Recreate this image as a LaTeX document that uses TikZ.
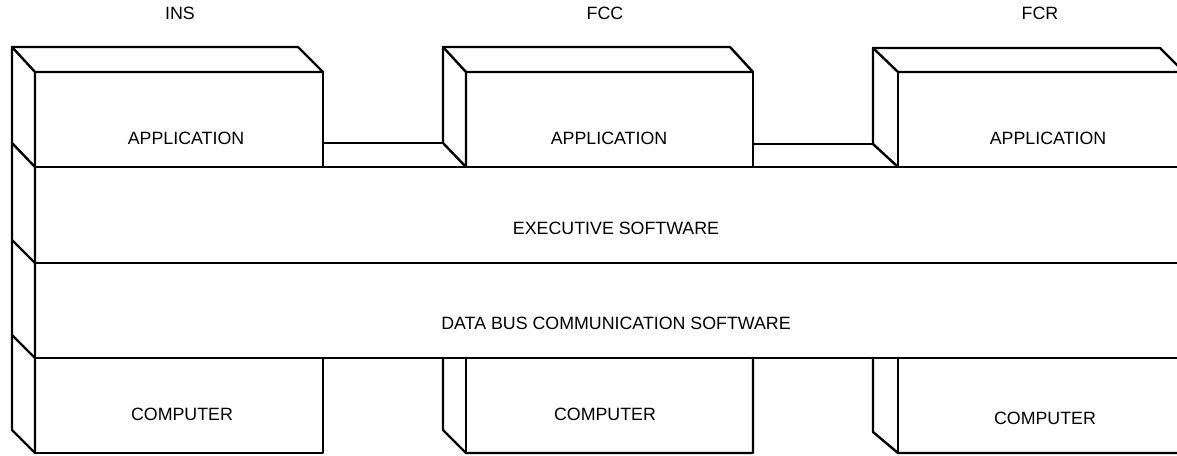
\documentclass[tikz,border=0pt]{standalone}
\usepackage{fontspec}
\setmainfont{Liberation Sans}
\begin{document}
\begin{tikzpicture}[x=1pt,y=-1pt,line width=2.4pt,line join=round,line cap=round,
  lbl/.style={font=\fontsize{17.8}{20}\selectfont,inner sep=0pt,anchor=center}]
\useasboundingbox (0,0) rectangle (1177,455);
\clip (0,0) rectangle (1177,455);
% coordinates for connectors
\coordinate (insR) at (323,143);
\coordinate (fccL) at (443,143);
\coordinate (fccR) at (753,144);
\coordinate (fcrL) at (873,144);
% ---- INS column
\draw (12,430) -- (12,47) -- (35,72) -- (35,453) -- cycle;
\draw (12,143) -- (35,167);
\draw (12,240) -- (35,263);
\draw (12,335) -- (35,358);
\draw (12,47) -- (298,47) -- (323,72) -- (35,72);
\draw (323,72) -- (323,167);
\draw (35,453) -- (323,453) -- (323,358);
% ---- layers
\draw (35,167) -- (1190,167);
\draw (35,263) -- (1190,263);
\draw (35,358) -- (1190,358);
% ---- FCC column
\draw (443,143) -- (443,47) -- (730,47) -- (753,72) -- (466,72);
\draw (443,47) -- (466,72) -- (466,167);
\draw (443,143) -- (466,167);
\draw (753,72) -- (753,167);
\draw (443,358) -- (443,430) -- (466,453) -- (753,453) -- (753,358);
\draw (466,358) -- (466,453);
% ---- FCR column
\draw (873,144) -- (873,48) -- (1160,48) -- (1185,73);
\draw (873,48) -- (898,72) -- (1190,72);
\draw (898,72) -- (898,167);
\draw (873,144) -- (898,167);
\draw (873,358) -- (873,432) -- (898,453) -- (1190,453);
\draw (898,358) -- (898,453);
% ---- connectors
\draw (insR) -- (fccL);
\draw (fccR) -- (fcrL);
% ---- labels
\node[lbl] (tins) at (180,13) {INS};
\node[lbl] (tfcc) at (605,13) {FCC};
\node[lbl] (tfcr) at (1040,13) {FCR};
\node[lbl] (a1) at (186,138) {APPLICATION};
\node[lbl] (a2) at (609,138) {APPLICATION};
\node[lbl] (a3) at (1048,138) {APPLICATION};
\node[lbl] (ex) at (616,228) {EXECUTIVE SOFTWARE};
\node[lbl] (db) at (616,323) {DATA BUS COMMUNICATION SOFTWARE};
\node[lbl] (c1) at (182,414) {COMPUTER};
\node[lbl] (c2) at (605,414) {COMPUTER};
\node[lbl] (c3) at (1045,418) {COMPUTER};
\end{tikzpicture}
\end{document}
